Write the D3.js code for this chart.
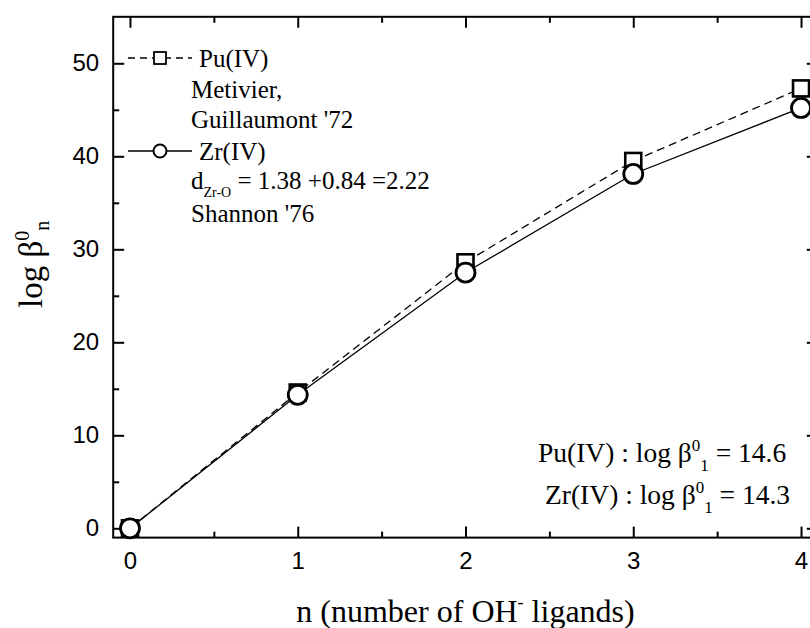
<!doctype html>
<meta charset="utf-8">
<title>log beta n vs n</title>
<script src="https://cdn.jsdelivr.net/npm/d3@7"></script>
<style>
  body { margin: 0; background: #fff; }
  .serif { font-family: "Liberation Serif", "Times New Roman", serif; }
</style>

<div class="chart"></div>

<script>
  // data
  const nValues = [0, 1, 2, 3, 4]
  const puValues = [0, 14.6, 28.6, 39.5, 47.3]
  const zrValues = [0, 14.35, 27.5, 38.1, 45.2]

  const xTicks = [0, 1, 2, 3, 4]
  const xMinor = [0.5, 1.5, 2.5, 3.5]
  const yTicks = [0, 10, 20, 30, 40, 50]
  const yMinor = [5, 15, 25, 35, 45]

  const puLegend = ['Pu(IV)', 'Metivier,', "Guillaumont '72"]
  const zrLegend = ['Zr(IV)', "Shannon '76"]

  const width = 810, height = 628
  const plotLeft = 113.2, plotRight = 817.8, plotTop = 16.8, plotBottom = 537.6

  const svg = d3.select('.chart')
    .append('svg')
    .attr('width', width)
    .attr('height', height)
    .style('background-color', '#fff')

  const x = d3.scaleLinear().domain([-0.1, 4.1]).range([plotLeft, plotRight])
  const y = d3.scaleLinear().domain([-1, 55]).range([plotBottom, plotTop])

  // axes, ticks pointing inward
  const styleAxis = g => {
    g.select('.domain').remove()
    g.selectAll('.tick line').attr('stroke', '#000').attr('stroke-width', 2)
    g.selectAll('.tick text')
      .style('font-family', '"Liberation Sans", Arial, sans-serif')
      .style('font-size', '24px')
      .style('fill', '#000')
  }

  svg.append('g').attr('transform', `translate(0,${plotBottom})`)
    .call(d3.axisBottom(x).tickValues(xTicks).tickSizeInner(-11).tickSizeOuter(0).tickPadding(14).tickFormat(d3.format('d')))
    .call(styleAxis)
  svg.append('g').attr('transform', `translate(0,${plotBottom})`)
    .call(d3.axisBottom(x).tickValues(xMinor).tickSizeInner(-6).tickSizeOuter(0).tickFormat(''))
    .call(styleAxis)
  svg.append('g').attr('transform', `translate(0,${plotTop})`)
    .call(d3.axisTop(x).tickValues(xTicks).tickSizeInner(-11).tickSizeOuter(0).tickFormat(''))
    .call(styleAxis)
  svg.append('g').attr('transform', `translate(0,${plotTop})`)
    .call(d3.axisTop(x).tickValues(xMinor).tickSizeInner(-6).tickSizeOuter(0).tickFormat(''))
    .call(styleAxis)

  svg.append('g').attr('transform', `translate(${plotLeft},0)`)
    .call(d3.axisLeft(y).tickValues(yTicks).tickSizeInner(-11).tickSizeOuter(0).tickPadding(14).tickFormat(d3.format('d')))
    .call(styleAxis)
  svg.append('g').attr('transform', `translate(${plotLeft},0)`)
    .call(d3.axisLeft(y).tickValues(yMinor).tickSizeInner(-6).tickSizeOuter(0).tickFormat(''))
    .call(styleAxis)
  svg.append('g').attr('transform', `translate(${plotRight},0)`)
    .call(d3.axisRight(y).tickValues(yTicks).tickSizeInner(-11).tickSizeOuter(0).tickFormat(''))
    .call(styleAxis)
  svg.append('g').attr('transform', `translate(${plotRight},0)`)
    .call(d3.axisRight(y).tickValues(yMinor).tickSizeInner(-6).tickSizeOuter(0).tickFormat(''))
    .call(styleAxis)

  // frame
  svg.append('rect')
    .attr('x', plotLeft).attr('y', plotTop)
    .attr('width', plotRight - plotLeft).attr('height', plotBottom - plotTop)
    .attr('fill', 'none').attr('stroke', '#000').attr('stroke-width', 2)

  // series lines
  const line = vals => d3.line()
    .x((d, i) => x(nValues[i]))
    .y(d => y(d))(vals)

  svg.append('path')
    .attr('d', line(puValues))
    .attr('fill', 'none').attr('stroke', '#000').attr('stroke-width', 1.3)
    .attr('stroke-dasharray', '8,5')
  svg.append('path')
    .attr('d', line(zrValues))
    .attr('fill', 'none').attr('stroke', '#000').attr('stroke-width', 1.3)

  // markers: squares first, circles on top
  const sq = 16
  svg.selectAll('rect.pu')
    .data(puValues)
    .enter()
    .append('rect')
    .attr('class', 'pu')
    .attr('x', (d, i) => x(nValues[i]) - sq / 2)
    .attr('y', d => y(d) - sq / 2)
    .attr('width', sq).attr('height', sq)
    .attr('fill', '#fff').attr('stroke', '#000').attr('stroke-width', 2.6)

  svg.selectAll('circle.zr')
    .data(zrValues)
    .enter()
    .append('circle')
    .attr('class', 'zr')
    .attr('cx', (d, i) => x(nValues[i]))
    .attr('cy', d => y(d))
    .attr('r', 9.5)
    .attr('fill', '#fff').attr('stroke', '#000').attr('stroke-width', 2.8)

  // legend
  const lg = svg.append('g').attr('class', 'serif').style('font-size', '25px')

  lg.append('line').attr('x1', 128).attr('x2', 192).attr('y1', 58).attr('y2', 58)
    .attr('stroke', '#000').attr('stroke-width', 1.3).attr('stroke-dasharray', '7,5')
  lg.append('rect').attr('x', 160 - 6).attr('y', 58 - 6).attr('width', 12).attr('height', 12)
    .attr('fill', '#fff').attr('stroke', '#000').attr('stroke-width', 1.8)
  lg.append('line').attr('x1', 128).attr('x2', 192).attr('y1', 151).attr('y2', 151)
    .attr('stroke', '#000').attr('stroke-width', 1.3)
  lg.append('circle').attr('cx', 160).attr('cy', 151).attr('r', 6.5)
    .attr('fill', '#fff').attr('stroke', '#000').attr('stroke-width', 2)

  lg.append('text').attr('x', 199).attr('y', 67).text(puLegend[0])
  lg.append('text').attr('x', 191).attr('y', 98).text(puLegend[1])
  lg.append('text').attr('x', 191).attr('y', 128).text(puLegend[2])
  lg.append('text').attr('x', 199).attr('y', 160).text(zrLegend[0])

  const dz = lg.append('text').attr('x', 191).attr('y', 189)
  dz.append('tspan').text('d')
  dz.append('tspan').attr('dy', 8).style('font-size', '14px').text('Zr-O')
  dz.append('tspan').attr('dy', -8).text(' = 1.38 +0.84 =2.22')

  lg.append('text').attr('x', 191).attr('y', 222).text(zrLegend[1])

  // log beta annotations
  const anno = (xp, yp, ion, val) => {
    const t = svg.append('text').attr('class', 'serif')
      .attr('x', xp).attr('y', yp).style('font-size', '27.5px')
    t.append('tspan').text(ion + ' : log \u03B2')
    t.append('tspan').attr('dy', -11).style('font-size', '17px').text('0')
    t.append('tspan').attr('dy', 20).style('font-size', '17px').text('1')
    t.append('tspan').attr('dy', -9).text(' = ' + val)
  }
  anno(538, 462, 'Pu(IV)', '14.6')
  anno(545, 504, 'Zr(IV)', '14.3')

  // axis titles
  const xt = svg.append('text').attr('class', 'serif')
    .attr('x', (plotLeft + plotRight) / 2).attr('y', 622)
    .attr('text-anchor', 'middle').style('font-size', '32px')
  xt.append('tspan').text('n (number of OH')
  xt.append('tspan').attr('dy', -14).style('font-size', '18px').text('-')
  xt.append('tspan').attr('dy', 14).text(' ligands)')

  const yt = svg.append('text').attr('class', 'serif')
    .attr('transform', 'translate(42,308) rotate(-90)')
    .style('font-size', '33px')
  yt.append('tspan').text('log \u03B2')
  yt.append('tspan').attr('dy', -13).style('font-size', '20px').text('0')
  yt.append('tspan').attr('dy', 20).style('font-size', '20px').text('n')
</script>
